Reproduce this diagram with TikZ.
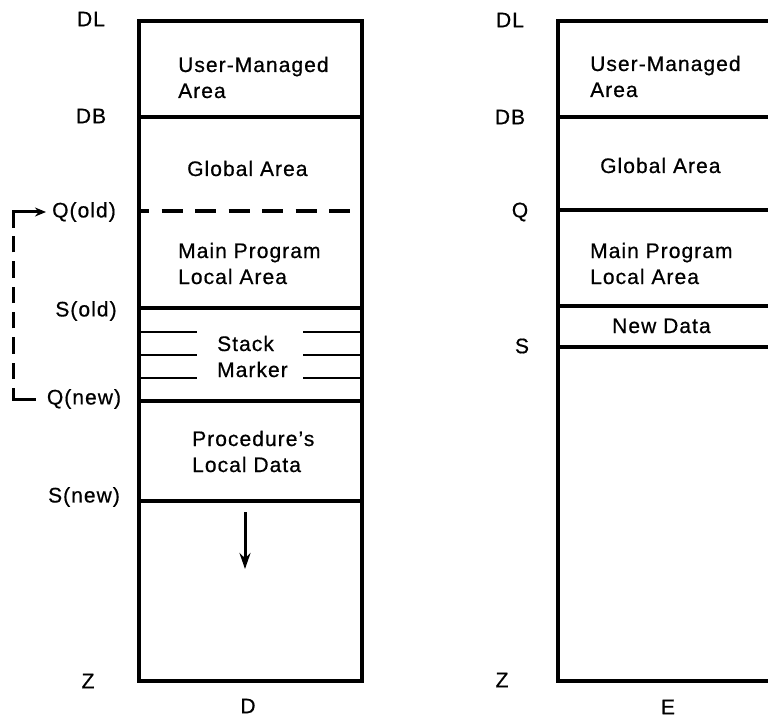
\documentclass[tikz,border=0pt]{standalone}
\usepackage{fontspec}
\setmainfont{Liberation Sans}[LetterSpace=5, FakeBold=0.6]
\usetikzlibrary{arrows.meta, calc}

\begin{document}
\begin{tikzpicture}[x=1pt, y=-1pt,
    tag/.style={font=\fontsize{21}{26}\selectfont, inner sep=3pt},
    area/.style={font=\fontsize{21}{26}\selectfont, inner sep=0pt, anchor=base west, align=left},
    frame/.style={line width=4.5pt},
    divider/.style={line width=3.5pt},
    tick/.style={line width=2.5pt},
    linkline/.style={line width=3pt}]

    \path[use as bounding box, clip] (0,0) rectangle (768,719);

    % stack D, during the call
    \draw[frame] (139,21) rectangle (362,681);
    \draw[divider] (139,117) -- (362,117);
    \draw[divider, dash pattern=on 21pt off 12.5pt, dash phase=11pt] (139,211) -- (362,211);
    \draw[divider] (139,308) -- (362,308);
    \draw[divider] (139,401) -- (362,401);
    \draw[divider] (139,501) -- (362,501);
    \foreach \y in {332, 355, 378} {
        \draw[tick] (139,\y) -- (197,\y);
        \draw[tick] (303,\y) -- (362,\y);
    }

    % multi-line texts sit on their last baseline
    \node[area] (userd) at (178,98) {User-Managed\\Area};
    \node[area] (globald) at (187,176) {Global Area};
    \node[area] (maind) at (178,284) {Main Program\\Local Area};
    \node[area] (marker) at (217,377) {Stack\\Marker};
    \node[area] (procdata) at (192,472) {Procedure’s\\Local Data};

    \node[tag] (dld) at (91,19) {DL};
    \node[tag] (dbd) at (91,116) {DB};
    \node[tag] (qold) at (84,212) {Q(old)};
    \node[tag] (sold) at (86,311) {S(old)};
    \node[tag] (qnew) at (84,399) {Q(new)};
    \node[tag] (snew) at (84,497) {S(new)};
    \node[tag] (zd) at (88,681) {Z};
    \node[tag] (capd) at (248,706) {D};

    % Q(new) -> Q(old) link, solid at the bends
    \coordinate (link) at (13,0);
    \coordinate (bendlow) at (link |- qnew.west);
    \coordinate (bendhigh) at (link |- qold.west);
    \draw[linkline] ([xshift=-8pt]qnew.west) -- (bendlow) -- ([yshift=11pt]bendlow);
    \draw[linkline, dash pattern=on 16.3pt off 9pt, dash phase=16.3pt]
        ([yshift=11pt]bendlow) -- ([yshift=-15pt]bendhigh);
    \draw[linkline, -{Stealth[length=11pt, width=9pt]}, shorten >=3pt]
        ([yshift=-15pt]bendhigh) -- (bendhigh) -- (qold.west);

    \coordinate (growtop) at (245,512);
    \coordinate (growend) at (245,569);
    \draw[line width=3pt, -{Stealth[length=16pt, width=11pt]}] (growtop) -- (growend);

    % stack E, after the return
    \draw[frame] (558,21) rectangle (781,681);
    \draw[divider] (558,117) -- (781,117);
    \draw[divider] (558,210) -- (781,210);
    \draw[divider] (558,306) -- (781,306);
    \draw[divider] (558,347) -- (781,347);

    \node[area] (usere) at (590,97) {User-Managed\\Area};
    \node[area] (globale) at (600,173) {Global Area};
    \node[area] (maine) at (590,284) {Main Program\\Local Area};
    \node[area] (newdata) at (612,333) {New Data};

    \node[tag] (dle) at (510,20) {DL};
    \node[tag] (dbe) at (510,117) {DB};
    \node[tag] (qe) at (520,212) {Q};
    \node[tag] (se) at (522,346) {S};
    \node[tag] (ze) at (502,680) {Z};
    \node[tag] (cape) at (668,707) {E};

\end{tikzpicture}
\end{document}
